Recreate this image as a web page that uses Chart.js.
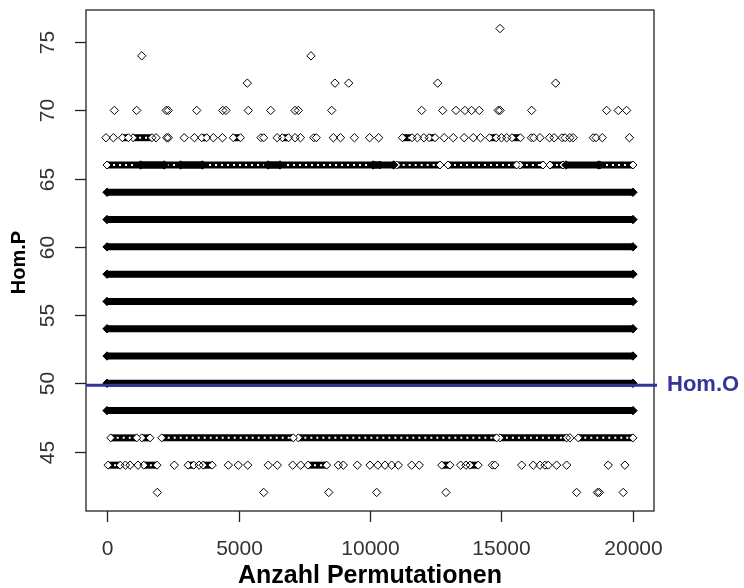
<!DOCTYPE html>
<html>
<head>
<meta charset="utf-8">
<script src="https://cdn.jsdelivr.net/npm/chart.js@4.4.0/dist/chart.umd.min.js"></script>
<style>
  html, body { margin: 0; padding: 0; background: #fff; }
  #wrap { width: 744px; height: 588px; }
</style>
</head>
<body>
<div id="wrap"><canvas id="chart" width="744" height="588"></canvas></div>
<script>
// Achsen
const xTicks = [0, 5000, 10000, 15000, 20000];
const yTicks = [45, 50, 55, 60, 65, 70, 75];
const xLabel = 'Anzahl Permutationen';
const yLabel = 'Hom.P';
const homO = 49.85;
const homOLabel = 'Hom.O';

// durchgehend belegte Abschnitte [Hom.P, von, bis]
const solidRuns = [
  [48, 0, 20000], [50, 0, 20000], [52, 0, 20000], [54, 0, 20000],
  [56, 0, 20000], [58, 0, 20000], [60, 0, 20000], [62, 0, 20000],
  [64, 0, 20000],
  [66, 1275, 2175], [66, 2795, 3627], [66, 6120, 6577], [66, 10121, 10900], [66, 17450, 18695]
];

// Abschnitte mit dicht überlappenden Rauten [Hom.P, von, bis]
const chainRuns = [
  [66, 0, 10380], [66, 11015, 12660], [66, 12965, 15577], [66, 15700, 16580], [66, 16843, 17340], [66, 18745, 20000],
  [46, 140, 1128], [46, 1320, 1635], [46, 2080, 7085], [46, 7275, 14815], [46, 14940, 17478], [46, 17920, 20000],
  [68, 585, 810], [68, 989, 1711], [68, 3600, 3790], [68, 4800, 5076], [68, 5850, 5960], [68, 6666, 6900],
  [68, 7860, 7960], [68, 11231, 11600], [68, 12250, 12474], [68, 14546, 14800], [68, 15400, 15721],
  [68, 16130, 16230], [68, 17300, 17420], [68, 18487, 18600],
  [44, 38, 500], [44, 1400, 1900], [44, 3080, 3300], [44, 3650, 4000], [44, 7642, 8352],
  [44, 12726, 13041], [44, 13800, 14117], [44, 14650, 14750], [44, 16650, 16780]
];

// einzelne Rauten je Zeile (Anzahl Permutationen)
const pts76 = [14942];
const pts74 = [1319, 7756];
const pts72 = [5335, 8669, 9189, 12573, 17060];
const pts70 = [279, 1128, 2250, 2330, 3410, 4400, 4525, 5373, 6224, 7148, 7275, 8543,
  11965, 12763, 13269, 13611, 13865, 14155, 14877, 14950, 16146, 18997, 19441, 19758];
const pts68 = [-40, 240, 1863, 2270, 2330, 2935, 3323, 4042, 4388, 6470, 7150, 7355, 8605, 8878, 9406,
  9984, 10330, 11800, 12050, 12820, 13166, 13580, 13927, 14200, 15000, 15200,
  16463, 16826, 17000, 17600, 17727, 18833, 19865];
const pts66 = [];
const pts46 = [17600];
const pts44 = [700, 875, 1180, 2560, 3500, 4612, 4992, 5350, 6133, 6475, 7060, 7365, 8795, 8985, 9518,
  10000, 10300, 10570, 10824, 11077, 11585, 11874, 13447, 13650, 15767, 16208, 16463, 17098, 17478, 19060, 19694];
const pts42 = [1913, 5959, 8430, 10253, 12889, 17858, 18650, 18720, 19630];

const singleRows = [[76, pts76], [74, pts74], [72, pts72], [70, pts70], [68, pts68],
  [66, pts66], [46, pts46], [44, pts44], [42, pts42]];

const INK = '#000000';
const BLUE = '#333399';
const FONT = '"Liberation Sans", Arial, sans-serif';

const datasets = [];

// Rautenketten: schwarzes Band mit hellen Löchern
chainRuns.forEach(([y, a, b]) => {
  datasets.push({
    data: [{ x: a, y: y }, { x: b, y: y }],
    showLine: true, borderColor: INK, borderWidth: 7, borderCapStyle: 'butt',
    pointStyle: 'rectRot', pointRadius: 4, pointBorderWidth: 1,
    pointBorderColor: INK, pointBackgroundColor: '#ffffff', order: 5
  });
  datasets.push({
    data: [{ x: a, y: y }, { x: b, y: y }],
    showLine: true, borderColor: '#ffffff', borderWidth: 2, borderDash: [2, 4],
    borderCapStyle: 'butt', pointRadius: 0, order: 4
  });
});

solidRuns.forEach(([y, a, b]) => {
  datasets.push({
    data: [{ x: a, y: y }, { x: b, y: y }],
    showLine: true, borderColor: INK, borderWidth: 7, borderCapStyle: 'butt',
    pointStyle: 'rectRot', pointRadius: 4.2, pointBorderWidth: 1,
    pointBorderColor: INK, pointBackgroundColor: INK, order: 3
  });
});

singleRows.forEach(([y, xs]) => {
  if (!xs.length) return;
  datasets.push({
    data: xs.map(x => ({ x: x, y: y })),
    showLine: false, pointStyle: 'rectRot', pointRadius: 4.2, pointBorderWidth: 1,
    pointBorderColor: INK, pointBackgroundColor: 'rgba(0,0,0,0)', order: 2
  });
});

// R-artige Achsen, Rahmen, Beschriftungen und Hom.O-Linie
const rAxes = {
  id: 'rAxes',
  afterDraw(chart) {
    const { ctx, chartArea: ca, scales } = chart;
    const sx = scales.x, sy = scales.y;
    ctx.save();
    ctx.strokeStyle = '#222';
    ctx.lineWidth = 1.3;
    ctx.strokeRect(ca.left, ca.top, ca.right - ca.left, ca.bottom - ca.top);

    ctx.fillStyle = '#333';
    ctx.font = '21px ' + FONT;
    ctx.textAlign = 'center';
    ctx.textBaseline = 'middle';
    xTicks.forEach(v => {
      const px = Math.round(sx.getPixelForValue(v)) + 0.5;
      ctx.beginPath();
      ctx.moveTo(px, ca.bottom);
      ctx.lineTo(px, ca.bottom + 11);
      ctx.stroke();
      ctx.fillText(String(v), px, ca.bottom + 38);
    });
    yTicks.forEach(v => {
      const py = Math.round(sy.getPixelForValue(v)) + 0.5;
      ctx.beginPath();
      ctx.moveTo(ca.left, py);
      ctx.lineTo(ca.left - 11, py);
      ctx.stroke();
      ctx.save();
      ctx.translate(ca.left - 38, py);
      ctx.rotate(-Math.PI / 2);
      ctx.fillText(String(v), 0, 0);
      ctx.restore();
    });

    ctx.fillStyle = '#000';
    ctx.font = 'bold 25px ' + FONT;
    ctx.fillText(xLabel, (ca.left + ca.right) / 2, 576);
    ctx.font = 'bold 20px ' + FONT;
    ctx.save();
    ctx.translate(19, (ca.top + ca.bottom) / 2 + 2);
    ctx.rotate(-Math.PI / 2);
    ctx.fillText(yLabel, 0, 0);
    ctx.restore();

    const hy = sy.getPixelForValue(homO);
    ctx.strokeStyle = BLUE;
    ctx.lineWidth = 3;
    ctx.beginPath();
    ctx.moveTo(ca.left, hy);
    ctx.lineTo(ca.right + 3, hy);
    ctx.stroke();
    ctx.fillStyle = BLUE;
    ctx.font = 'bold 22px ' + FONT;
    ctx.textAlign = 'left';
    ctx.fillText(homOLabel, ca.right + 13, hy);
    ctx.restore();
  }
};

new Chart(document.getElementById('chart'), {
  type: 'scatter',
  data: { datasets: datasets },
  options: {
    responsive: false,
    animation: false,
    devicePixelRatio: 1,
    layout: { padding: { left: 86, right: 90, top: 10, bottom: 77 } },
    plugins: { legend: { display: false }, tooltip: { enabled: false } },
    scales: {
      x: { type: 'linear', min: -800, max: 20800, display: false },
      y: { type: 'linear', min: 40.64, max: 77.36, display: false }
    }
  },
  plugins: [rAxes]
});
</script>
</body>
</html>
